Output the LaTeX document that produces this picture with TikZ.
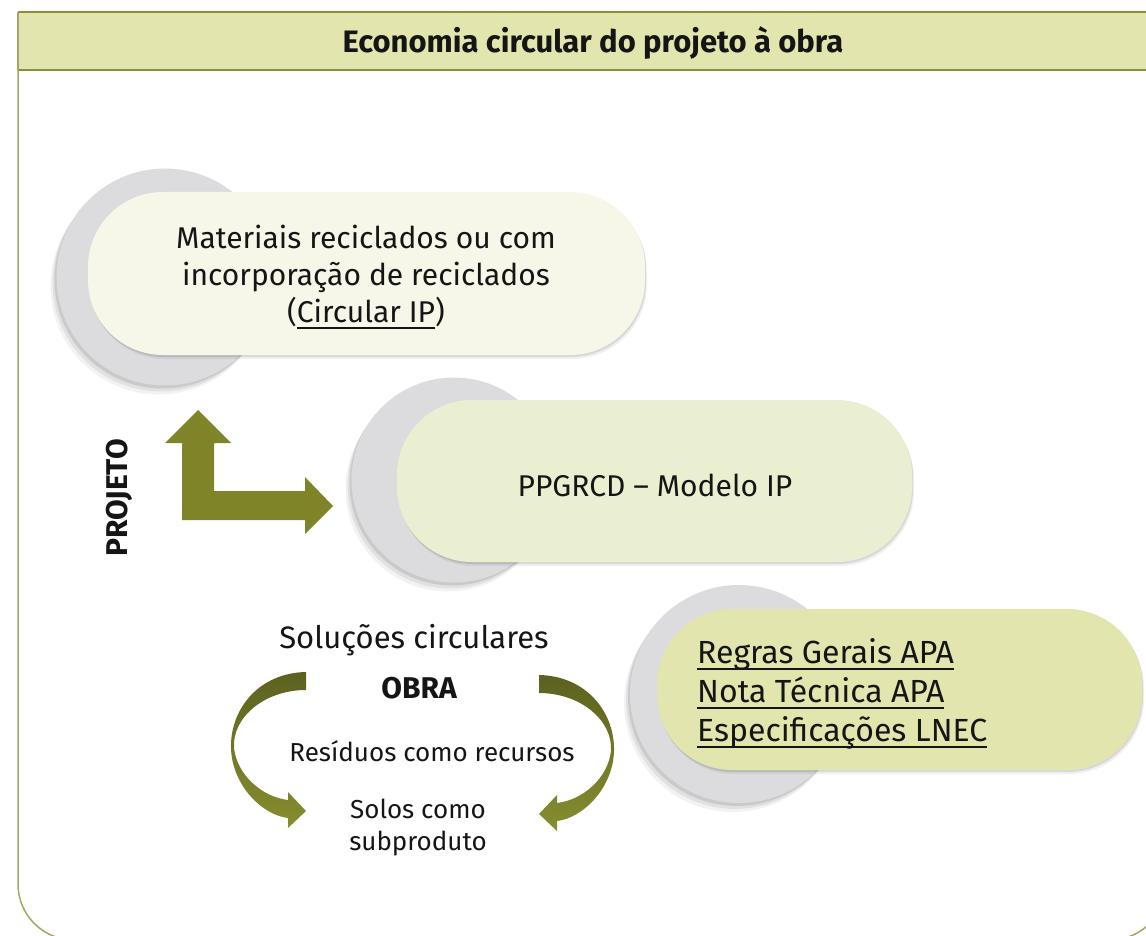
\documentclass[tikz,border=0pt]{standalone}
\usepackage{fontspec}
\setmainfont{Fira Sans}
\usepackage{graphicx}
\usetikzlibrary{shadows}
\newsavebox\myulbox
\newcommand\myul[1]{\sbox\myulbox{#1}\rlap{\rule[-6pt]{\wd\myulbox}{1.8pt}}\usebox\myulbox}
\definecolor{textcol}{HTML}{151515}
\definecolor{circgray}{HTML}{DCDCDF}
\definecolor{pillA}{HTML}{F6F7E9}
\definecolor{pillB}{HTML}{EBEFD1}
\definecolor{pillC}{HTML}{E2E5AD}
\definecolor{barfill}{HTML}{E2E5AE}
\definecolor{barline}{HTML}{8B8E38}
\definecolor{framecol}{HTML}{A3A760}
\definecolor{arrowolive}{HTML}{7F8428}
\definecolor{arrowdark}{HTML}{5C6120}
\definecolor{arrowlight}{HTML}{878D2F}
\tikzset{
  softshadow/.style={
    drop shadow={shadow xshift=-2pt, shadow yshift=-3pt, opacity=0.10, fill=black},
    drop shadow={shadow xshift=-4pt, shadow yshift=-6pt, opacity=0.07, fill=black},
    drop shadow={shadow xshift=-6pt, shadow yshift=-9pt, opacity=0.05, fill=black}},
  pillshadow/.style={
    drop shadow={shadow xshift=1pt, shadow yshift=-2pt, opacity=0.10, fill=black},
    drop shadow={shadow xshift=2pt, shadow yshift=-4pt, opacity=0.06, fill=black}},
  gcirc/.style={circle, fill=circgray, inner sep=0pt, softshadow},
  pill/.style={rectangle, rounded corners=75pt, inner sep=0pt, pillshadow},
  txt/.style={text=textcol, inner sep=0pt, align=center, font=\fontsize{30}{37}\selectfont},
  smalltxt/.style={text=textcol, inner sep=0pt, align=center, font=\fontsize{26}{32}\selectfont},
}
\begin{document}
\begin{tikzpicture}[x=1pt,y=-1pt]
\useasboundingbox (0,0) rectangle (1146,936);
% frame
\draw[framecol, line width=1.5pt, rounded corners=56pt] (18,60) -- (18,940) -- (1166,940) -- (1166,60);
% title bar
\fill[barfill] (18,12) rectangle (1170,70);
\draw[barline, line width=2.2pt] (18,12) -- (1170,12);
\draw[barline, line width=2.2pt] (18,70) -- (1170,70);
\draw[framecol, line width=1.5pt] (18,12) -- (18,70);
\node[txt, font=\fontsize{31}{37}\selectfont\bfseries] (title) at (593,43) {Economia circular do projeto à obra};
% circles
\node[gcirc, minimum size=217pt] (c1) at (165,277) {};
\node[gcirc, minimum size=205pt] (c2) at (454,480) {};
\node[gcirc, minimum size=218pt] (c3) at (739,694) {};
% pills
\node[pill, fill=pillA, minimum width=557pt, minimum height=163pt] (p1) at (366.5,273.5) {};
\node[txt] (t1) at (366,277)
  {Materiais reciclados ou com\\incorporação de reciclados\\(\myul{Circular IP})};
\node[pill, fill=pillB, minimum width=515pt, minimum height=162pt] (p2) at (654.5,481) {};
\node[txt] (t2) at (655,485) {PPGRCD – Modelo IP};
\node[pill, fill=pillC, minimum width=485pt, minimum height=161pt] (p3) at (899.5,689.5) {};
\node[txt, anchor=west, align=left, font=\fontsize{32}{39}\selectfont] (t3) at (697,694)
  {\myul{Regras Gerais APA}\\\myul{Nota Técnica APA}\\\myul{Especificações LNEC}};
% L arrow
\fill[arrowolive] (198,410) -- (231,443) -- (214,443) -- (214,491) -- (305,491) -- (305,477)
  -- (333,506) -- (305,534) -- (305,520) -- (182,520) -- (182,443) -- (165,443) -- cycle;
\node[txt, rotate=90, font=\fontsize{30}{37}\selectfont\bfseries] (proj) at (119,498) {PROJETO};
% curved arrows
\shade[top color=arrowdark, bottom color=arrowlight]
  (306,672) .. controls (258,673) and (230,710) .. (231,748)
  .. controls (232,785) and (262,815) .. (288,818)
  -- (288,828) -- (306,811) -- (288,792) -- (288,800)
  .. controls (262,797) and (237,775) .. (234,748)
  .. controls (232,717) and (265,690) .. (306,690) -- cycle;
\begin{scope}[shift={(845,3)}, xscale=-1]
\shade[top color=arrowdark, bottom color=arrowlight]
  (306,672) .. controls (258,673) and (230,710) .. (231,748)
  .. controls (232,785) and (262,815) .. (288,818)
  -- (288,828) -- (306,811) -- (288,792) -- (288,800)
  .. controls (262,797) and (237,775) .. (234,748)
  .. controls (232,717) and (265,690) .. (306,690) -- cycle;
\end{scope}
% OBRA texts
\node[txt, font=\fontsize{31}{37}\selectfont] (sol) at (414,640) {Soluções circulares};
\node[txt, font=\fontsize{30}{37}\selectfont\bfseries] (obra) at (419,688) {OBRA};
\node[smalltxt] (res) at (432,751) {Resíduos como recursos};
\node[smalltxt] (solos) at (418,828) {Solos como\\subproduto};
\end{tikzpicture}
\end{document}
